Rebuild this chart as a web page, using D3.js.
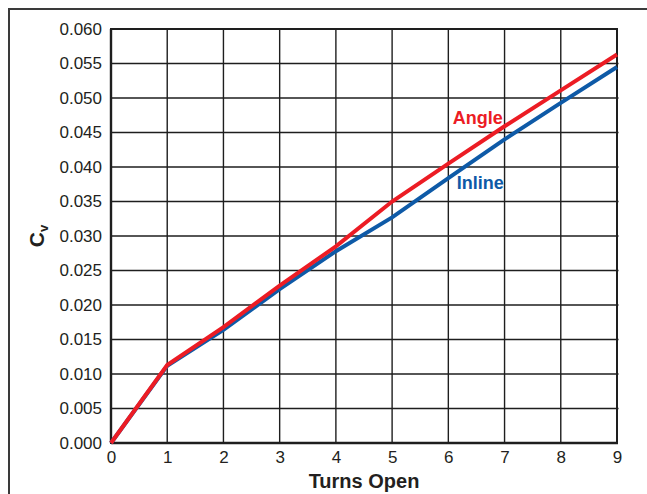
<!DOCTYPE html>
<html>
<head>
<meta charset="utf-8">
<script src="https://cdn.jsdelivr.net/npm/d3@7"></script>
<style>
  html, body { margin: 0; padding: 0; background: #fff; }
  svg { display: block; font-family: "Liberation Sans", Arial, Helvetica, sans-serif; }
</style>
</head>
<body>
<div id="chart"></div>
<script>
// ---- data ----
const turns = [0, 1, 2, 3, 4, 5, 6, 7, 8, 9];
const angleCv = [0, 0.0113, 0.0168, 0.0228, 0.0285, 0.0350, 0.0405, 0.0459, 0.0511, 0.0563];
const inlineCv = [0, 0.0112, 0.0164, 0.0223, 0.0278, 0.0327, 0.0384, 0.0440, 0.0493, 0.0545];
const xTicks = [0, 1, 2, 3, 4, 5, 6, 7, 8, 9];
const yTicks = [0, 0.005, 0.010, 0.015, 0.020, 0.025, 0.030, 0.035, 0.040, 0.045, 0.050, 0.055, 0.060];
const seriesNames = ["Angle", "Inline"];
const seriesColors = ["#ec1c24", "#0e5aa7"];
const xTitle = "Turns Open";

// ---- layout ----
const W = 647, H = 494;
const margin = { left: 111, right: 30, top: 29, bottom: 51 };

const svg = d3.select("#chart").append("svg").attr("width", W).attr("height", H);

// outer frame (extends beyond the right and bottom edges)
svg.append("rect")
  .attr("x", 9).attr("y", 9).attr("width", 660).attr("height", 520)
  .attr("fill", "none").attr("stroke", "#3a3a3a").attr("stroke-width", 2);

const x = d3.scaleLinear().domain([0, 9]).range([margin.left, W - margin.right]);
const y = d3.scaleLinear().domain([0, 0.060]).range([H - margin.bottom, margin.top]);

const grid = svg.append("g");
grid.selectAll("line.v").data(xTicks.slice(1, -1)).enter().append("line")
  .attr("x1", d => x(d)).attr("x2", d => x(d))
  .attr("y1", y(0)).attr("y2", y(0.060))
  .attr("stroke", "#1e1e1e").attr("stroke-width", 1.4);
grid.selectAll("line.h").data(yTicks.slice(1, -1)).enter().append("line")
  .attr("x1", x(0)).attr("x2", x(9) + 1.5)
  .attr("y1", d => y(d)).attr("y2", d => y(d))
  .attr("stroke", "#1e1e1e").attr("stroke-width", 1.4);

// plot border
svg.append("rect")
  .attr("x", x(0)).attr("y", y(0.060))
  .attr("width", x(9) - x(0)).attr("height", y(0) - y(0.060))
  .attr("fill", "none").attr("stroke", "#1e1e1e").attr("stroke-width", 2);
svg.append("line").attr("x1", x(0)).attr("x2", x(9) + 1).attr("y1", y(0)).attr("y2", y(0))
  .attr("stroke", "#1e1e1e").attr("stroke-width", 2.6);
svg.append("line").attr("x1", x(0)).attr("x2", x(0)).attr("y1", y(0)).attr("y2", y(0.060))
  .attr("stroke", "#1e1e1e").attr("stroke-width", 2.4);

// axes labels via d3 axes (no tick lines)
const xAxis = svg.append("g")
  .attr("transform", `translate(0,${y(0)})`)
  .attr("font-size", 17)
  .call(d3.axisBottom(x).tickValues(xTicks).tickFormat(d3.format("d")).tickSize(0).tickPadding(8));
xAxis.select(".domain").remove();
xAxis.selectAll("text").attr("font-size", 17).attr("fill", "#231f20")
  .attr("font-family", "Liberation Sans, Arial, sans-serif");

const yAxis = svg.append("g")
  .attr("transform", `translate(${x(0)},0)`)
  .attr("font-size", 17)
  .call(d3.axisLeft(y).tickValues(yTicks).tickFormat(d3.format(".3f")).tickSize(0).tickPadding(9));
yAxis.select(".domain").remove();
yAxis.selectAll("text").attr("font-size", 17).attr("fill", "#231f20")
  .attr("font-family", "Liberation Sans, Arial, sans-serif");

// series lines
const line = d3.line().x((d, i) => x(turns[i])).y(d => y(d));
[inlineCv, angleCv].forEach((vals, k) => {
  const idx = 1 - k;
  svg.append("path").datum(vals)
    .attr("d", line)
    .attr("fill", "none")
    .attr("stroke", seriesColors[idx])
    .attr("stroke-width", 4)
    .attr("stroke-linejoin", "miter");
});

// series labels
svg.append("text").attr("x", x(6.08)).attr("y", y(0.0462))
  .attr("fill", seriesColors[0]).attr("font-weight", "bold").attr("font-size", 18)
  .text(seriesNames[0]);
svg.append("text").attr("x", x(6.15)).attr("y", y(0.0368))
  .attr("fill", seriesColors[1]).attr("font-weight", "bold").attr("font-size", 18)
  .text(seriesNames[1]);

// x title
svg.append("text").attr("x", (x(0) + x(9)) / 2).attr("y", 488)
  .attr("text-anchor", "middle").attr("font-weight", "bold").attr("font-size", 20)
  .attr("fill", "#231f20").text(xTitle);

// y title: C with subscript v
const yt = svg.append("text")
  .attr("transform", `translate(44,${(y(0) + y(0.060)) / 2}) rotate(-90)`)
  .attr("text-anchor", "middle").attr("font-weight", "bold").attr("font-size", 21)
  .attr("fill", "#231f20");
yt.append("tspan").text("C");
yt.append("tspan").attr("font-size", 13).attr("dy", 4).text("v");
</script>
</body>
</html>
